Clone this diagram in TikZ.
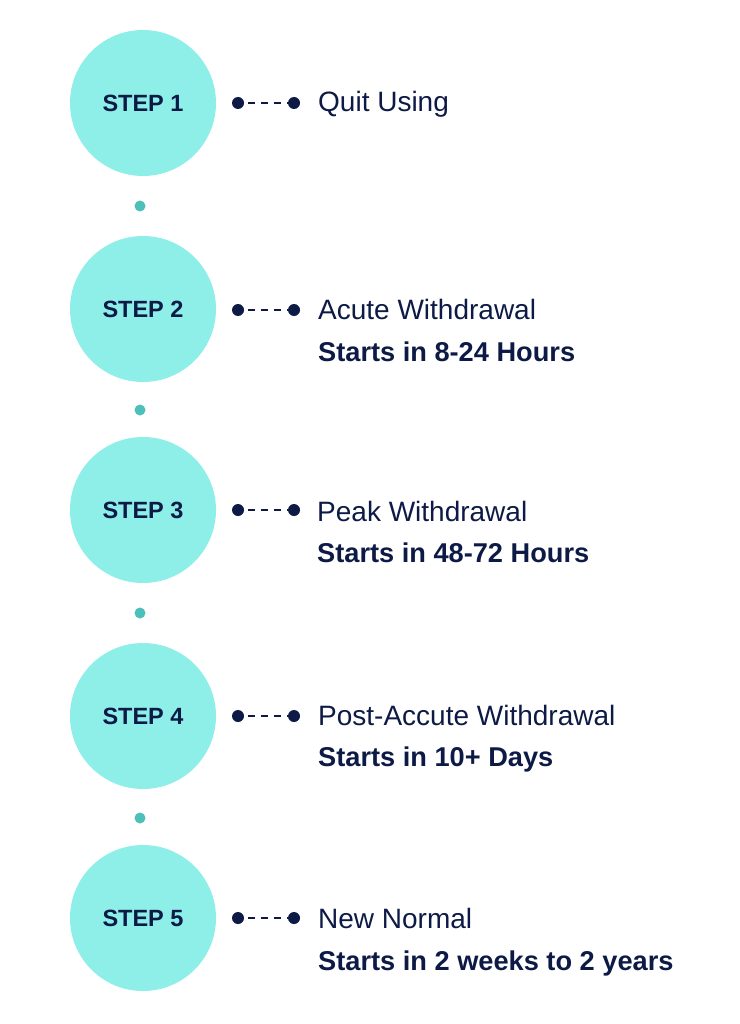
\documentclass[tikz,border=0pt]{standalone}
\usepackage{fontspec}
\setmainfont{Liberation Sans}
\definecolor{circ}{HTML}{8EEFE9}
\definecolor{tdot}{HTML}{4FBFBB}
\definecolor{navy}{HTML}{0D1A46}
\begin{document}
\begin{tikzpicture}[x=1pt,y=-1pt,
  stepcirc/.style={circle,fill=circ,minimum size=146pt,inner sep=0pt,text=navy,font=\fontsize{23.5}{27}\selectfont\bfseries},
  sep/.style={circle,fill=tdot,minimum size=11pt,inner sep=0pt},
  end/.style={circle,fill=navy,minimum size=12pt,inner sep=0pt},
  lbl/.style={anchor=base west,inner sep=0pt,text=navy,font=\fontsize{28}{32}\selectfont},
  sub/.style={anchor=base west,inner sep=0pt,text=navy,font=\fontsize{27.2}{32}\selectfont\bfseries},
  conn/.style={navy,line width=1.4pt,dash pattern=on 7pt off 6pt,dash phase=-4pt}]
\useasboundingbox (0,0) rectangle (739,1024);
\node[stepcirc] (s1) at (143,103) {STEP 1};
\node[stepcirc] (s2) at (143,309) {STEP 2};
\node[stepcirc] (s3) at (143,510) {STEP 3};
\node[stepcirc] (s4) at (143,716) {STEP 4};
\node[stepcirc] (s5) at (143,918) {STEP 5};
\node[sep] (d1) at (140,206) {};
\node[sep] (d2) at (140,410) {};
\node[sep] (d3) at (140,613) {};
\node[sep] (d4) at (140,818) {};
\foreach \i/\y in {1/103,2/310,3/510,4/716,5/918}{
  \node[end] (a\i) at (238,\y) {};
  \node[end] (b\i) at (294,\y) {};
  \draw[conn] (a\i) -- (b\i);
}
\node[lbl] (t1) at (318,112) {Quit Using};
\node[lbl] (t2) at (318,319) {Acute Withdrawal};
\node[sub] (u2) at (318,361) {Starts in 8-24 Hours};
\node[lbl] (t3) at (317,521) {Peak Withdrawal};
\node[sub] (u3) at (317,562) {Starts in 48-72 Hours};
\node[lbl] (t4) at (318,725) {Post-Accute Withdrawal};
\node[sub] (u4) at (318,766) {Starts in 10+ Days};
\node[lbl] (t5) at (318,928) {New Normal};
\node[sub] (u5) at (318,970) {Starts in 2 weeks to 2 years};
\end{tikzpicture}
\end{document}
